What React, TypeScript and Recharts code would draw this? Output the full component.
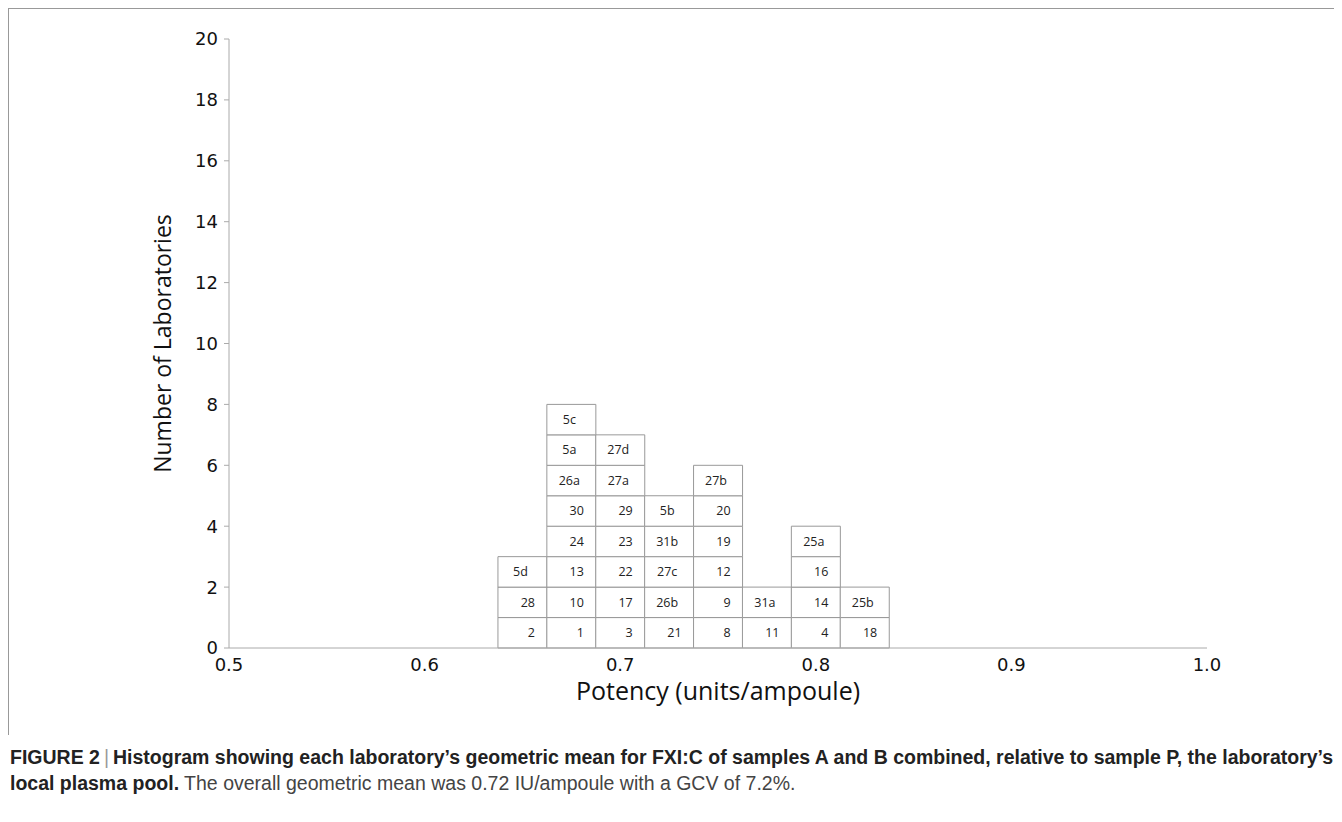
import { BarChart, Bar, XAxis, YAxis, LabelList } from 'recharts'

// bin centres (potency, units/ampoule)
const binCenters = [0.65, 0.675, 0.7, 0.725, 0.75, 0.775, 0.8, 0.825]

// laboratory codes stacked in each bin, bottom to top
const labCodes: string[][] = [
  ['2', '28', '5d'],
  ['1', '10', '13', '24', '30', '26a', '5a', '5c'],
  ['3', '17', '22', '23', '29', '27a', '27d'],
  ['21', '26b', '27c', '31b', '5b'],
  ['8', '9', '12', '19', '20', '27b'],
  ['11', '31a'],
  ['4', '14', '16', '25a'],
  ['18', '25b'],
]

const xTicks = [0.5, 0.6, 0.7, 0.8, 0.9, 1.0]
const yTicks = [0, 2, 4, 6, 8, 10, 12, 14, 16, 18, 20]

const maxLevel = Math.max(...labCodes.map((c) => c.length))
const levels = Array.from({ length: maxLevel }, (_, i) => i)

const data = binCenters.map((x, i) => {
  const row: Record<string, number | string> = { x }
  labCodes[i].forEach((code, lv) => {
    row[`l${lv}`] = 1
    row[`n${lv}`] = code
  })
  return row
})

const FONT = "'DejaVu Sans', Verdana, sans-serif"

const cellLabel = (props: any) => {
  const { x, y, width, height, value } = props
  if (value === undefined || value === null) return null
  const numeric = /^\d+$/.test(String(value))
  return (
    <text
      x={numeric ? x + width - 12 : x + width / 2 - 2}
      y={y + height / 2}
      dy="0.35em"
      textAnchor={numeric ? 'end' : 'middle'}
      fontSize={12.5}
      fontFamily="'Open Sans', sans-serif"
      fill="#222"
    >
      {value}
    </text>
  )
}

const XTick = (props: any) => {
  const { x, y, payload } = props
  return (
    <text x={x} y={y} dy="0.75em" textAnchor="middle" fontSize={18} fontFamily={FONT} fill="#111">
      {Number(payload.value).toFixed(1)}
    </text>
  )
}

const YTick = (props: any) => {
  const { x, y, payload } = props
  return (
    <text x={x} y={y} dy="0.36em" textAnchor="end" fontSize={18} fontFamily={FONT} fill="#111">
      {payload.value}
    </text>
  )
}

export default function App() {
  return (
    <div style={{ position: 'relative', width: 1334, height: 806, background: '#fff' }}>
      <div style={{ position: 'absolute', left: 0, top: 0, width: 1334, height: 1, background: '#999', zIndex: 2 }} />
      <div style={{ position: 'absolute', left: 0, top: 0, width: 1, height: 727, background: '#999', zIndex: 2 }} />
      <div style={{ position: 'absolute', left: 0, top: 0 }}>
        <BarChart
          width={1334}
          height={710}
          data={data}
          margin={{ top: 31, right: 135, left: 161, bottom: 0 }}
          barCategoryGap={0}
          barGap={0}
        >
          <XAxis
            dataKey="x"
            type="number"
            domain={[0.5, 1.0]}
            ticks={xTicks}
            tickLine={false}
            tickSize={0}
            tickMargin={9}
            height={70}
            axisLine={{ stroke: '#aaa' }}
            tick={<XTick />}
            allowDataOverflow
            label={{
              value: 'Potency (units/ampoule)',
              position: 'insideBottom',
              offset: 18,
              style: { fontSize: 25, fontFamily: "'Open Sans', sans-serif", fill: '#111' },
            }}
          />
          <YAxis
            type="number"
            domain={[0, 20]}
            ticks={yTicks}
            interval={0}
            width={60}
            tickSize={5}
            tickMargin={6}
            axisLine={{ stroke: '#aaa' }}
            tickLine={{ stroke: '#aaa' }}
            tick={<YTick />}
            label={{
              value: 'Number of Laboratories',
              angle: -90,
              position: 'left',
              offset: 6,
              style: { fontSize: 23, fontFamily: "'Open Sans', sans-serif", fill: '#111', textAnchor: 'middle' },
            }}
          />
          {levels.map((lv) => (
            <Bar
              key={lv}
              dataKey={`l${lv}`}
              stackId="a"
              fill="#fff"
              stroke="#999"
              strokeWidth={1}
              isAnimationActive={false}
            >
              <LabelList dataKey={`n${lv}`} content={cellLabel} />
            </Bar>
          ))}
        </BarChart>
      </div>
      <div
        style={{
          position: 'absolute',
          left: 2,
          top: 736,
          width: 1330,
          fontFamily: "'Liberation Sans', Arial, sans-serif",
          fontSize: 19.5,
          lineHeight: '26px',
          color: '#444',
          whiteSpace: 'nowrap',
        }}
      >
        <span style={{ fontWeight: 'bold', color: '#222' }}>FIGURE 2</span>
        <span style={{ color: '#999', margin: '0 4px' }}>|</span>
        <span style={{ fontWeight: 'bold', color: '#222' }}>
          Histogram showing each laboratory’s geometric mean for FXI:C of samples A and B combined, relative to sample P, the laboratory’s
        </span>
        <br />
        <span style={{ fontWeight: 'bold', color: '#222' }}>local plasma pool.</span> The overall geometric mean was 0.72 IU/ampoule with a GCV of 7.2%.
      </div>
    </div>
  )
}
